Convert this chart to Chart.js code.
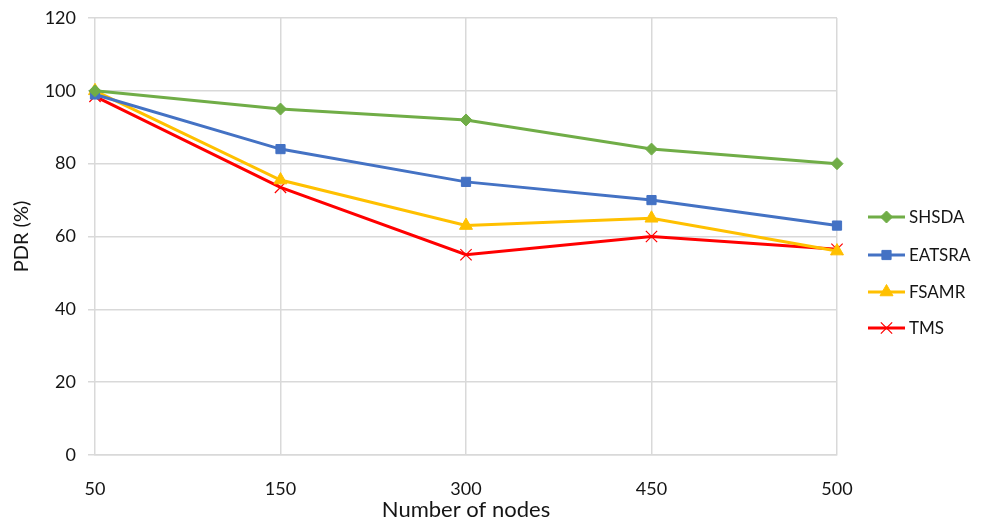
<!DOCTYPE html>
<html>
<head>
<meta charset="utf-8">
<script src="https://cdn.jsdelivr.net/npm/chart.js@4.4.0/dist/chart.umd.min.js"></script>
<style>
  html, body { margin: 0; padding: 0; background: #fff; }
  #wrap { width: 989px; height: 526px; position: relative; }
</style>
</head>
<body>
<div id="wrap"><canvas id="pdrChart"></canvas></div>
<script>
// PDR vs number of nodes
const nodeCounts = ['50', '150', '300', '450', '500'];
const yTicks = [0, 20, 40, 60, 80, 100, 120];

const shsda = [100, 95, 92, 84, 80];
const eatsra = [99, 84, 75, 70, 63];
const fsamr = [100, 75.5, 63, 65, 56];
const tms = [98.5, 73.5, 55, 60, 56.5];

const FONT = 'Lato, "Open Sans", sans-serif';
const TEXT = '#151515';

function series(label, data, color, style, radius, width) {
    return {
        label: label,
        data: data,
        borderColor: color,
        backgroundColor: color,
        borderWidth: 3,
        pointStyle: style,
        pointRadius: radius,
        pointHoverRadius: radius,
        pointBorderWidth: width,
        pointBorderColor: color,
        pointBackgroundColor: color,
        tension: 0
    };
}

// legend on the right: short line with the marker in the middle
const sideLegend = {
    id: 'sideLegend',
    afterDraw(chart) {
        const ctx = chart.ctx;
        const x0 = 868, x1 = 905;
        const rows = [217, 255, 292, 328];
        ctx.save();
        chart.data.datasets.forEach((ds, i) => {
            const y = rows[i];
            ctx.strokeStyle = ds.borderColor;
            ctx.lineWidth = 3;
            ctx.beginPath();
            ctx.moveTo(x0, y);
            ctx.lineTo(x1, y);
            ctx.stroke();
            ctx.fillStyle = ds.pointBackgroundColor;
            ctx.strokeStyle = ds.pointBorderColor;
            ctx.lineWidth = ds.pointBorderWidth;
            Chart.helpers.drawPoint(ctx, {
                pointStyle: ds.pointStyle,
                radius: ds.pointRadius,
                borderWidth: ds.pointBorderWidth,
                rotation: 0
            }, (x0 + x1) / 2, y);
            ctx.fillStyle = TEXT;
            ctx.font = '17px ' + FONT;
            ctx.textBaseline = 'middle';
            ctx.textAlign = 'left';
            ctx.fillText(ds.label, x1 + 4, y + 1);
        });
        ctx.restore();
    }
};

new Chart(document.getElementById('pdrChart'), {
    type: 'line',
    data: {
        labels: nodeCounts,
        datasets: [
            series('SHSDA', shsda, '#70AD47', 'rectRot', 6, 1),
            series('EATSRA', eatsra, '#4472C4', 'rect', 6.5, 1),
            series('FSAMR', fsamr, '#FFC000', 'triangle', 7.5, 1),
            series('TMS', tms, '#FF0000', 'crossRot', 8, 1.2)
        ]
    },
    options: {
        responsive: true,
        maintainAspectRatio: false,
        animation: false,
        layout: { padding: { top: 18, right: 152, left: 0, bottom: 0 } },
        plugins: {
            legend: { display: false },
            tooltip: { enabled: false }
        },
        scales: {
            x: {
                offset: false,
                afterFit: s => { s.height = 71; },
                grid: { color: '#d9d9d9', lineWidth: 1.5, drawTicks: false },
                border: { color: '#d9d9d9', width: 1.5 },
                ticks: { color: TEXT, padding: 23, font: { family: FONT, size: 18 }, maxRotation: 0 },
                title: {
                    display: true,
                    text: 'Number of nodes',
                    color: TEXT,
                    font: { family: FONT, size: 22 },
                    padding: { top: 0, bottom: 3 }
                }
            },
            y: {
                min: 0,
                max: 120,
                afterFit: s => { s.width = 95; s.paddingTop = 0; s.paddingBottom = 0; },
                afterBuildTicks: s => { s.ticks = yTicks.map(v => ({ value: v })); },
                grid: { color: '#d9d9d9', lineWidth: 1.5, tickLength: 7 },
                border: { display: false },
                ticks: { color: TEXT, padding: 12, font: { family: FONT, size: 18 } },
                title: {
                    display: true,
                    text: 'PDR (%)',
                    color: TEXT,
                    font: { family: FONT, size: 20 },
                    padding: { top: 10, bottom: 0 }
                }
            }
        }
    },
    plugins: [sideLegend]
});
</script>
</body>
</html>
